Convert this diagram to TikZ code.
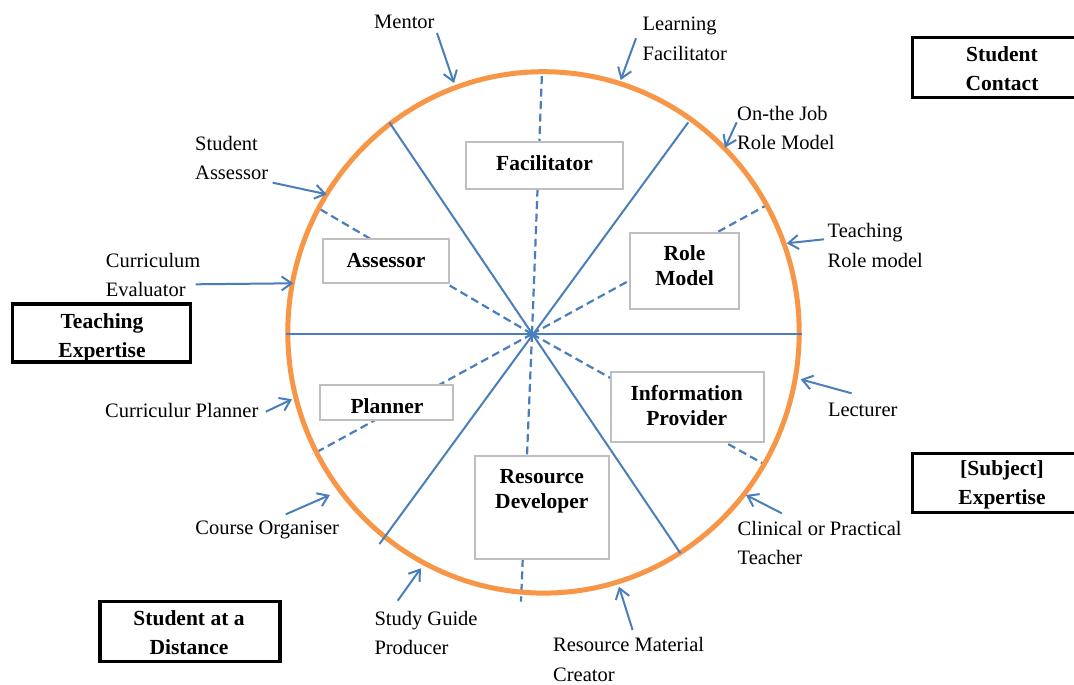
\documentclass[tikz,border=0pt]{standalone}
\usepackage{fontspec}
\setmainfont{Liberation Serif}
\usetikzlibrary{arrows.meta}
\definecolor{lineblue}{HTML}{4A7EBB}
\definecolor{ringorange}{HTML}{F79646}
\definecolor{boxgray}{HTML}{BFBFBF}
\tikzset{
  solidline/.style={draw=lineblue, line width=2pt},
  dashline/.style={draw=lineblue, line width=2.2pt, dash pattern=on 8pt off 4.5pt},
  ring/.style={draw=ringorange, line width=5pt},
  rolebox/.style={draw=boxgray, line width=2.2pt, fill=white, inner sep=0pt, outer sep=0pt},
  groupbox/.style={draw=black, line width=3.3pt, fill=white, inner sep=0pt, outer sep=0pt},
  roletext/.style={font=\fontsize{21.5}{25}\selectfont\bfseries, inner sep=0pt, anchor=north, align=center},
  grouptext/.style={font=\fontsize{21.5}{29}\selectfont\bfseries, inner sep=0pt, anchor=north, align=center},
  lbl/.style={font=\fontsize{20.5}{29.3}\selectfont, inner sep=0pt, anchor=north west, align=left},
  pointer/.style={draw=lineblue, line width=2pt, -{Straight Barb[length=10pt,width=14pt]}},
}
\begin{document}
\begin{tikzpicture}[x=1pt,y=-1pt]
\useasboundingbox (0,0) rectangle (1074,685);
\fill[white] (0,0) rectangle (1074,685);

% hub and spoke ends
\coordinate (hub) at (532,334);
\coordinate (wEnd) at (286,334);
\coordinate (eEnd) at (801.5,334);
\coordinate (ulEnd) at (389.3,122.3);
\coordinate (urEnd) at (688.3,122.3);
\coordinate (llEnd) at (379.5,544);
\coordinate (lrEnd) at (680.5,553.3);
\coordinate (dTop) at (542,72);
\coordinate (dBot) at (521,601.7);
\coordinate (dUL) at (318,208);
\coordinate (dUR) at (765,206);
\coordinate (dLL) at (312.7,454.3);
\coordinate (dLR) at (765.5,465);

% dashed spokes
\draw[dashline] (hub) -- (dTop);
\draw[dashline] (hub) -- (dBot);
\draw[dashline] (hub) -- (dUL);
\draw[dashline] (hub) -- (dUR);
\draw[dashline] (hub) -- (dLL);
\draw[dashline] (hub) -- (dLR);

% ring
\draw[ring] (543.5,332.4) ellipse [x radius=255.7pt, y radius=260.7pt];

% solid spokes
\draw[solidline] (wEnd) -- (eEnd);
\draw[solidline] (ulEnd) -- (lrEnd);
\draw[solidline] (urEnd) -- (llEnd);

% role boxes
\node[rolebox, minimum width=157pt, minimum height=47pt] (facbox) at (544.5,165.5) {};
\node[roletext] (factxt) at (544.5,155.5) {Facilitator};
\node[rolebox, minimum width=126pt, minimum height=44pt] (assbox) at (386,261) {};
\node[roletext] (asstxt) at (386,252.8) {Assessor};
\node[rolebox, minimum width=109pt, minimum height=76.6pt] (rolebox1) at (684.5,271) {};
\node[roletext] (roletxt) at (684.6,245.5) {Role\\Model};
\node[rolebox, minimum width=133.6pt, minimum height=35pt] (planbox) at (386.4,402.5) {};
\node[roletext] (plantxt) at (387,398.8) {Planner};
\node[rolebox, minimum width=153.2pt, minimum height=70pt] (infobox) at (687.2,407.3) {};
\node[roletext] (infotxt) at (686.7,385.5) {Information\\Provider};
\node[rolebox, minimum width=134pt, minimum height=103.3pt] (resbox) at (541.9,507.7) {};
\node[roletext] (restxt) at (541.8,468.8) {Resource\\Developer};

% group boxes
\node[groupbox, minimum width=179.7pt, minimum height=60.4pt] (contactbox) at (1002.2,67.5) {};
\node[grouptext] (contacttxt) at (1002,46.5) {Student\\Contact};
\node[groupbox, minimum width=178.4pt, minimum height=58pt] (teachbox) at (101.5,333) {};
\node[grouptext] (teachtxt) at (102,313.5) {Teaching\\Expertise};
\node[groupbox, minimum width=179.7pt, minimum height=59.4pt] (subjbox) at (1002.2,483) {};
\node[grouptext] (subjtxt) at (1002,460.2) {[Subject]\\Expertise};
\node[groupbox, minimum width=180pt, minimum height=60pt] (distbox) at (190,631.7) {};
\node[grouptext] (disttxt) at (189,610.5) {Student at a\\Distance};

% labels
\node[lbl] (mentor) at (374,15) {Mentor};
\node[lbl] (learnfac) at (642.5,17) {Learning\\Facilitator};
\node[lbl] (onjob) at (737,106) {On-the Job\\Role Model};
\node[lbl] (teachrm) at (827.5,223.3) {Teaching\\Role model};
\node[lbl] (lecturer) at (827.8,403.3) {Lecturer};
\node[lbl] (clinical) at (737.5,521) {Clinical or Practical\\Teacher};
\node[lbl] (resmat) at (553,637.5) {Resource Material\\Creator};
\node[lbl] (studyguide) at (374.3,611) {Study Guide\\Producer};
\node[lbl] (course) at (195.2,520.3) {Course Organiser};
\node[lbl] (curplan) at (105,402.7) {Curriculur Planner};
\node[lbl] (cureval) at (105.7,252.7) {Curriculum\\Evaluator};
\node[lbl] (studass) at (195,136) {Student\\Assessor};

% pointer arrows
\coordinate (mentorT) at (437,33);      \coordinate (mentorH) at (454,83);
\coordinate (learnT) at (636,38.3);     \coordinate (learnH) at (620.7,80);
\coordinate (onjobT) at (736.7,122.3);  \coordinate (onjobH) at (725,147.7);
\coordinate (teachT) at (824,239.3);    \coordinate (teachH) at (786.7,243.3);
\coordinate (lectT) at (851.6,393.3);   \coordinate (lectH) at (800.6,379.3);
\coordinate (clinT) at (781.8,513.3);   \coordinate (clinH) at (746,495);
\coordinate (resmatT) at (632.6,630);   \coordinate (resmatH) at (619,586.7);
\coordinate (studyT) at (397.7,600.7);  \coordinate (studyH) at (420.8,568.3);
\coordinate (courseT) at (285.8,514.3); \coordinate (courseH) at (329.9,495);
\coordinate (cplanT) at (265.8,411.7);  \coordinate (cplanH) at (292,399.3);
\coordinate (cevalT) at (195.7,284.3);  \coordinate (cevalH) at (293.3,283.3);
\coordinate (sassT) at (272.7,182.7);   \coordinate (sassH) at (326.7,194.3);

\draw[pointer] (mentorT) -- (mentorH);
\draw[pointer] (learnT) -- (learnH);
\draw[pointer] (onjobT) -- (onjobH);
\draw[pointer] (teachT) -- (teachH);
\draw[pointer] (lectT) -- (lectH);
\draw[pointer] (clinT) -- (clinH);
\draw[pointer] (resmatT) -- (resmatH);
\draw[pointer] (studyT) -- (studyH);
\draw[pointer] (courseT) -- (courseH);
\draw[pointer] (cplanT) -- (cplanH);
\draw[pointer] (cevalT) -- (cevalH);
\draw[pointer] (sassT) -- (sassH);
\end{tikzpicture}
\end{document}
